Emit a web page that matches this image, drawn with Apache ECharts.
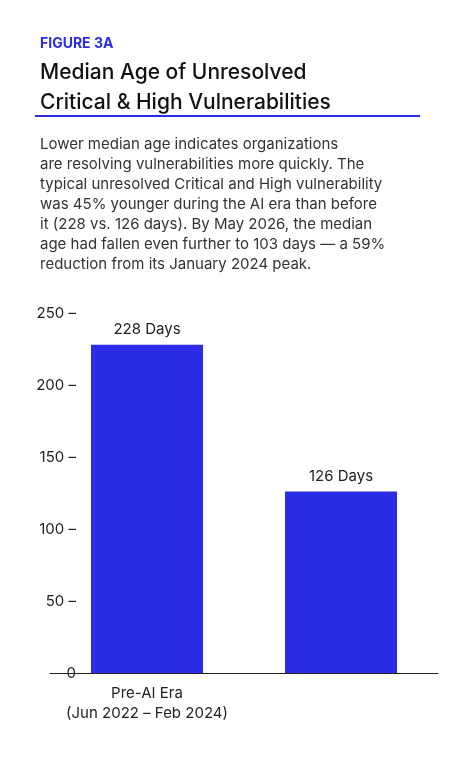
<!DOCTYPE html>
<html>
<head>
<meta charset="utf-8">
<script src="https://cdn.jsdelivr.net/npm/echarts@6/dist/echarts.min.js"></script>
<style>
  html, body { margin: 0; padding: 0; background: #fff; }
  #chart { width: 455px; height: 768px; }
</style>
</head>
<body>
<div id="chart"></div>
<script>
// data
let categories = ['Pre-AI Era\n(Jun 2022 – Feb 2024)', 'AI Era\n(Mar 2024 – Jun 2026)']
let medianDays = [228, 126]
let yTicks = [0, 50, 100, 150, 200, 250]

let blue = '#2b2ce6'
let font = 'Inter, "Noto Sans", sans-serif'
let myChart = echarts.init(document.getElementById('chart'))

let option = {
  backgroundColor: '#fff',
  animation: false,
  title: [
    { text: 'FIGURE 3A', left: 35, top: 32, textStyle: { color: blue, fontSize: 14, fontWeight: 'bold', fontFamily: font } },
    {
      text: 'Median Age of Unresolved\nCritical & High Vulnerabilities', left: 35, top: 53,
      textStyle: { color: '#111', fontSize: 21, fontWeight: 500, lineHeight: 30, fontFamily: font }
    },
    {
      text: 'Lower median age indicates organizations\nare resolving vulnerabilities more quickly. The\ntypical unresolved Critical and High vulnerability\nwas 45% younger during the AI era than before\nit (228 vs. 126 days). By May 2026, the median\nage had fallen even further to 103 days — a 59%\nreduction from its January 2024 peak.',
      left: 35, top: 129,
      textStyle: { color: '#333', fontSize: 15, fontWeight: 'normal', lineHeight: 20, fontFamily: font }
    }
  ],
  graphic: [
    { type: 'rect', shape: { x: 35, y: 115, width: 385, height: 2 }, style: { fill: blue } }
  ],
  grid: { left: 50, right: 17, top: 313, bottom: 95 },
  xAxis: {
    type: 'category',
    data: categories,
    axisLine: { lineStyle: { color: '#222' } },
    axisTick: { show: false },
    axisLabel: { color: '#222', fontSize: 15, lineHeight: 20, margin: 10, fontFamily: font }
  },
  yAxis: {
    type: 'value',
    min: yTicks[0],
    max: yTicks[yTicks.length - 1],
    interval: 50,
    splitLine: { show: false },
    axisLine: { show: false },
    axisLabel: { color: '#222', fontSize: 15, margin: -26, fontFamily: font, formatter: function(v) { return v === 0 ? '0' : v + ' –' } }
  },
  series: [{
    type: 'bar',
    data: medianDays,
    barWidth: 112,
    itemStyle: { color: blue },
    label: {
      show: true, position: 'top', distance: 8, color: '#222', fontSize: 15, fontFamily: font,
      formatter: function(p) { return p.value + ' Days' }
    }
  }]
}
myChart.setOption(option)

// annotation inside the second bar
let pt = myChart.convertToPixel({ xAxisIndex: 0, yAxisIndex: 0 }, [1, 85])
myChart.setOption({
  graphic: [
    { type: 'rect', shape: { x: 35, y: 115, width: 385, height: 2 }, style: { fill: blue } },
    {
      type: 'text', x: pt[0], y: pt[1],
      style: {
        text: '{a|59%}\n{b|IMRPOVEMENT}\n{b|FROM PEAK}', align: 'center', verticalAlign: 'middle',
        rich: {
          a: { fill: '#fff', fontSize: 30, fontWeight: 'bold', fontFamily: '"DejaVu Sans Condensed", sans-serif', lineHeight: 34, align: 'center' },
          b: { fill: '#fff', fontSize: 15, fontWeight: 'bold', fontFamily: '"DejaVu Sans Condensed", sans-serif', lineHeight: 18, align: 'center' }
        }
      }
    }
  ]
})
</script>
</body>
</html>
